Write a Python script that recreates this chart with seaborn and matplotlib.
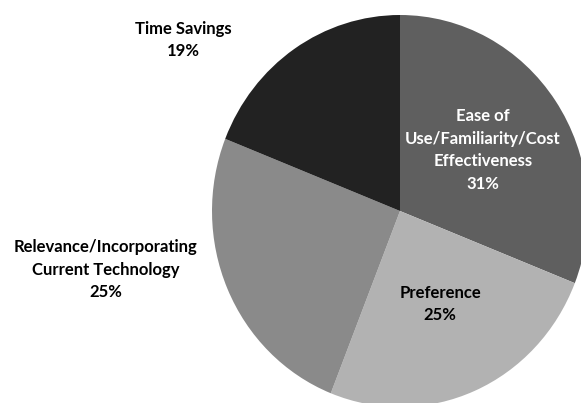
import matplotlib
matplotlib.use("Agg")
import matplotlib.pyplot as plt
import seaborn as sns

categories = [
    "Ease of\nUse/Familiarity/Cost\nEffectiveness",
    "Preference",
    "Relevance/Incorporating\nCurrent Technology",
    "Time Savings",
]
shares = [31, 25, 25, 19]
slice_colors = ["#5f5f5f", "#b2b2b2", "#8a8a8a", "#222222"]
label_colors = ["white", "black", "black", "black"]
# label anchor points in data units (pie radius = 1)
label_xy = [(0.441, 0.311), (0.213, -0.474), (-1.564, -0.301), (-1.154, 0.872)]

sns.set_theme(style="white")
plt.rcParams["font.family"] = ["Lato", "DejaVu Sans"]

fig = plt.figure(figsize=(5.81, 4.03), dpi=100)
ax = fig.add_axes([212 / 581, -4 / 403, 376 / 581, 392 / 403])

ax.pie(shares, colors=slice_colors, startangle=90, counterclock=False,
       wedgeprops=dict(linewidth=0))
ax.set_aspect("auto")
ax.set_xlim(-1, 1)
ax.set_ylim(-1, 1)
ax.axis("off")

for name, val, (x, y), c in zip(categories, shares, label_xy, label_colors):
    ax.text(x, y, f"{name}\n{val}%", ha="center", va="center", color=c,
            fontsize=12, fontweight="bold", linespacing=1.5, clip_on=False)

fig.savefig("out.png", dpi=100)
